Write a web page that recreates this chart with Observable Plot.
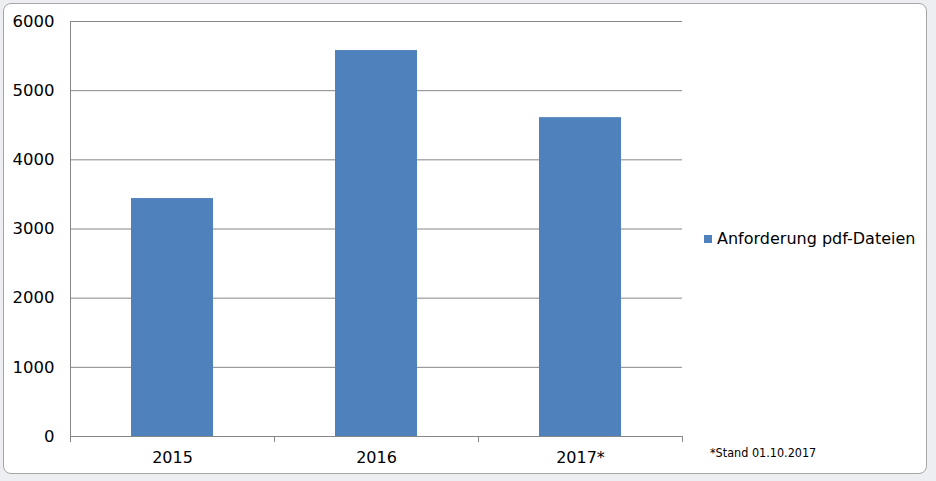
<!DOCTYPE html>
<html>
<head>
<meta charset="utf-8">
<script src="https://cdn.jsdelivr.net/npm/d3@7"></script>
<script src="https://cdn.jsdelivr.net/npm/@observablehq/plot@0.6"></script>
<style>
  html, body { margin: 0; padding: 0; background: #eceef1; }
  #wrap { position: relative; width: 936px; height: 481px; overflow: hidden; }
  #frame { position: absolute; left: 3px; top: 3px; width: 922px; height: 469px;
           background: #fff; border: 1px solid #a6a6a6; border-radius: 8px; }
  #chart { position: absolute; left: 0; top: 0; }
  #legend { position: absolute; left: 704px; top: 229px; font-family: "DejaVu Sans", sans-serif;
            font-size: 16px; color: #000; display: flex; align-items: center; white-space: nowrap; }
  #legend .sw { width: 8px; height: 8px; background: #4f81bd; margin-right: 5px; }
  #note { position: absolute; left: 710px; top: 445px; font-family: "DejaVu Sans Condensed", "DejaVu Sans", sans-serif;
          font-size: 12.5px; color: #000; white-space: nowrap; }
</style>
</head>
<body>
<div id="wrap">
  <div id="frame"></div>
  <div id="chart"></div>
  <div id="legend"><span class="sw"></span><span id="legendText"></span></div>
  <div id="note"></div>
</div>
<script>
const years = ["2015", "2016", "2017*"];
const values = [3440, 5580, 4610];
const yTicks = [0, 1000, 2000, 3000, 4000, 5000, 6000];
const seriesName = "Anforderung pdf-Dateien";
const footnote = "*Stand 01.10.2017";

const data = years.map((y, i) => ({year: y, value: values[i]}));

const W = 936, H = 481;
const mL = 70, mR = 254, mT = 21, mB = 45;
const halfStep = (W - mL - mR) / years.length / 2;
const gridColor = "#868686";

const plot = Plot.plot({
  width: W,
  height: H,
  marginLeft: mL,
  marginRight: mR,
  marginTop: mT,
  marginBottom: mB,
  style: {background: "transparent", color: "#000"},
  x: {domain: years, paddingInner: 0.6, paddingOuter: 0.3, label: null},
  y: {domain: [0, 6000], label: null},
  marks: [
    Plot.ruleY(yTicks.filter(d => d > 0), {stroke: gridColor, strokeWidth: 1}),
    Plot.barY(data, {x: "year", y: "value", fill: "#4f81bd"}),
    Plot.ruleY([0], {stroke: gridColor, strokeWidth: 1}),
    Plot.ruleX([years[0]], {x: d => d, dx: -halfStep, y1: () => yTicks[0], y2: () => yTicks[yTicks.length - 1], stroke: gridColor}),
    Plot.axisY({ticks: yTicks, tickSize: 0, tickPadding: 16, tickFormat: d => String(d), fontSize: 16.5, fontFamily: "DejaVu Sans", label: null}),
    Plot.axisX({tickSize: 0, tickPadding: 15, fontSize: 16, fontFamily: "DejaVu Sans", label: null}),
    Plot.axisX({tickSize: 6, tickFormat: () => "", dx: -halfStep, stroke: gridColor, label: null}),
    Plot.axisX({ticks: [years[years.length - 1]], tickSize: 6, tickFormat: () => "", dx: halfStep, stroke: gridColor, label: null})
  ]
});
document.getElementById("chart").appendChild(plot);
document.getElementById("legendText").textContent = seriesName;
document.getElementById("note").textContent = footnote;
</script>
</body>
</html>
